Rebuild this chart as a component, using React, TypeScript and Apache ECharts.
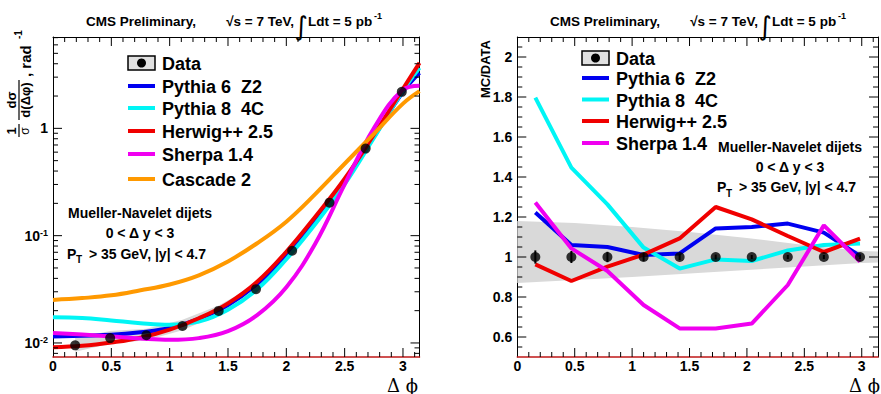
import { useEffect, useRef } from 'react';
import * as echarts from 'echarts';

const PI = Math.PI;
const FONT = '"Liberation Sans", Arial, Helvetica, sans-serif';
const SERIF = '"DejaVu Serif", "Liberation Serif", serif';

// ---------- left panel: 1/sigma dsigma/d(dphi) ----------
const curveX = [0, 0.25, 0.5, 0.75, 1.0, 1.25, 1.5, 1.75, 2.0, 2.25, 2.5, 2.75, 3.0, 3.1416];
const pythia6Curve = [0.0115, 0.0117, 0.0119, 0.0126, 0.0138, 0.0168, 0.0226, 0.0355, 0.0668, 0.143, 0.324, 0.832, 2.19, 3.29];
const pythia8Curve = [0.0174, 0.0171, 0.0162, 0.0153, 0.0148, 0.0158, 0.0204, 0.0316, 0.0603, 0.129, 0.302, 0.813, 2.24, 3.66];
const herwigCurve = [0.0091, 0.0094, 0.0101, 0.0112, 0.0133, 0.017, 0.0234, 0.0372, 0.0708, 0.151, 0.339, 0.871, 2.34, 4.07];
const sherpaCurve = [0.0124, 0.012, 0.0115, 0.011, 0.0107, 0.0111, 0.0129, 0.0182, 0.0331, 0.085, 0.3, 1.0, 2.29, 2.5];
const cascadeCurve = [0.0252, 0.0262, 0.0278, 0.031, 0.0351, 0.0427, 0.0575, 0.085, 0.135, 0.245, 0.468, 0.89, 1.7, 2.22];

const dataX = [0.19, 0.49, 0.8, 1.11, 1.42, 1.74, 2.05, 2.37, 2.68, 2.99];
const dataY = [0.0095, 0.0111, 0.0118, 0.0144, 0.0199, 0.0317, 0.0723, 0.203, 0.648, 2.19];
const dataSysHi = [1.17, 1.165, 1.15, 1.14, 1.12, 1.1, 1.09, 1.07, 1.05, 1.03];
const dataSysLo = [0.87, 0.885, 0.9, 0.91, 0.92, 0.93, 0.94, 0.95, 0.96, 0.97];

// ---------- right panel: MC / DATA ----------
const ratioX = [0.157, 0.471, 0.785, 1.1, 1.414, 1.728, 2.042, 2.356, 2.67, 2.985];
const ratioPythia6 = [1.222, 1.06, 1.05, 1.01, 1.018, 1.143, 1.15, 1.167, 1.122, 1.005];
const ratioPythia8 = [1.797, 1.447, 1.263, 1.047, 0.942, 0.988, 0.98, 1.033, 1.06, 1.068];
const ratioHerwig = [0.963, 0.88, 0.952, 1.012, 1.093, 1.25, 1.188, 1.105, 1.025, 1.092];
const ratioSherpa = [1.272, 1.043, 0.93, 0.76, 0.643, 0.643, 0.667, 0.86, 1.158, 0.977];
const ratioData = [1, 1, 1, 1, 1, 1, 1, 1, 1, 1];
const ratioDataErr = [0.033, 0.03, 0.026, 0.02, 0.015, 0.012, 0.01, 0.01, 0.01, 0.01];
const bandX = [0, 0.5, 1.0, 1.5, 2.0, 2.5, 3.0, 3.1416];
const bandHi = [1.18, 1.17, 1.15, 1.125, 1.095, 1.06, 1.03, 1.027];
const bandLo = [0.87, 0.885, 0.9, 0.918, 0.935, 0.952, 0.97, 0.973];

// ---------- axes ----------
const xTickLabels = ['0', '0.5', '1', '1.5', '2', '2.5', '3'];
const logTickValues = [0.01, 0.1, 1];
const ratioTickLabels = ['0.6', '0.8', '1', '1.2', '1.4', '1.6', '1.8', '2'];
const LOG_MIN = 0.0074, LOG_MAX = 7.1;
const R_MIN = 0.5, R_MAX = 2.1;

const legendNames = ['Pythia 6  Z2', 'Pythia 8  4C', 'Herwig++ 2.5', 'Sherpa 1.4', 'Cascade 2'];
const legendColors = ['#0000f0', '#00f5f5', '#f00000', '#f000f0', '#ff9900'];

const zip = (xs: number[], ys: number[]) => xs.map((x, i) => [x, ys[i]]);

// tick descriptors [value, kind]: 1 x-major, 2 x-minor, 3 y-major, 4 y-minor
function xTicks(): number[][] {
  const out: number[][] = [];
  for (let i = 1; i <= 31; i++) out.push([i / 10, i % 5 === 0 ? 1 : 2]);
  return out;
}
function logTicks(): number[][] {
  const out: number[][] = [];
  for (const dec of [0.001, 0.01, 0.1, 1]) {
    for (let m = 1; m <= 9; m++) {
      const v = m * dec;
      if (v > LOG_MIN && v < LOG_MAX) out.push([v, m === 1 ? 3 : 4]);
    }
  }
  return out;
}
function ratioTicks(): number[][] {
  const out: number[][] = [];
  for (let i = 11; i <= 41; i++) {
    const v = i * 0.05;
    if (v > R_MIN + 0.01 && v < R_MAX - 0.01) out.push([v, i % 4 === 0 ? 3 : 4]);
  }
  return out;
}

const makeTickRender = (yMin: number, yMax: number) => (_p: any, api: any) => {
  const v = api.value(0);
  const k = api.value(1);
  const st = { stroke: '#000', lineWidth: 1 };
  if (k === 1 || k === 2) {
    const len = k === 1 ? 9 : 5;
    const b = api.coord([v, yMin]);
    const t = api.coord([v, yMax]);
    return {
      type: 'group',
      children: [
        { type: 'line', shape: { x1: b[0], y1: b[1], x2: b[0], y2: b[1] - len }, style: st },
        { type: 'line', shape: { x1: t[0], y1: t[1], x2: t[0], y2: t[1] + len }, style: st },
      ],
    };
  }
  const len = k === 3 ? 9 : 5;
  const l = api.coord([0, v]);
  const r = api.coord([PI, v]);
  return {
    type: 'group',
    children: [
      { type: 'line', shape: { x1: l[0], y1: l[1], x2: l[0] + len, y2: l[1] }, style: st },
      { type: 'line', shape: { x1: r[0], y1: r[1], x2: r[0] - len, y2: r[1] }, style: st },
    ],
  };
};

function titleEls(x0: number): any[] {
  const f = 'bold 13.5px ' + FONT;
  return [
    { type: 'text', x: x0, y: 21, style: { text: 'CMS Preliminary,', font: f, fill: '#000', verticalAlign: 'middle' } },
    { type: 'text', x: x0 + 208, y: 21, style: { text: '\u221As = 7 TeV,', font: f, fill: '#000', align: 'right', verticalAlign: 'middle' } },
    { type: 'text', x: x0 + 215, y: 26, style: { text: '\u222B', font: 'normal 26px "DejaVu Sans", sans-serif', fill: '#000', align: 'center', verticalAlign: 'middle' } },
    { type: 'text', x: x0 + 222, y: 21, style: { text: 'Ldt = 5 pb', font: f, fill: '#000', verticalAlign: 'middle' } },
    { type: 'text', x: x0 + 288, y: 16, style: { text: '-1', font: 'bold 9px ' + FONT, fill: '#000', verticalAlign: 'middle' } },
  ];
}

function legendEls(x0: number, ys: number[], n: number): any[] {
  const els: any[] = [
    { type: 'rect', shape: { x: x0, y: ys[0] - 7, width: 27, height: 14 }, style: { fill: '#e0e0e0', stroke: '#000', lineWidth: 1.5 } },
    { type: 'circle', shape: { cx: x0 + 13.5, cy: ys[0], r: 4.5 }, style: { fill: '#000' } },
    { type: 'text', x: x0 + 34, y: ys[0] + 1, style: { text: 'Data', font: 'bold 18px ' + FONT, fill: '#000', verticalAlign: 'middle' } },
  ];
  for (let i = 0; i < n; i++) {
    const y = ys[i + 1];
    els.push({ type: 'line', shape: { x1: x0, y1: y, x2: x0 + 27, y2: y }, style: { stroke: legendColors[i], lineWidth: 4 } });
    els.push({ type: 'text', x: x0 + 34, y: y + 1, style: { text: legendNames[i], font: 'bold 18px ' + FONT, fill: '#000', verticalAlign: 'middle' } });
  }
  return els;
}

function annotEls(cx: number, y0: number, step: number): any[] {
  const f = 'bold 14px ' + FONT;
  return [
    { type: 'text', x: cx, y: y0, style: { text: 'Mueller-Navelet dijets', font: f, fill: '#000', align: 'center', verticalAlign: 'middle' } },
    { type: 'text', x: cx, y: y0 + step, style: { text: '0 < \u0394 y < 3', font: f, fill: '#000', align: 'center', verticalAlign: 'middle' } },
    { type: 'text', x: cx - 73, y: y0 + 2 * step, style: { text: 'P', font: f, fill: '#000', verticalAlign: 'middle' } },
    { type: 'text', x: cx - 64, y: y0 + 2 * step + 6, style: { text: 'T', font: 'bold 10px ' + FONT, fill: '#000', verticalAlign: 'middle' } },
    { type: 'text', x: cx - 55, y: y0 + 2 * step, style: { text: ' > 35 GeV, |y| < 4.7', font: f, fill: '#000', verticalAlign: 'middle' } },
  ];
}

function dphiLabel(xRight: number): any {
  return { type: 'text', x: xRight, y: 385, style: { text: '\u0394 \u03D5', font: 'normal 18px ' + SERIF, fill: '#000', align: 'right', verticalAlign: 'middle' } };
}

const tickFont = { fontFamily: FONT, fontWeight: 'bold' as const, fontSize: 14, color: '#000' };

function xAxes(gridIndex: number): any[] {
  return [
    {
      gridIndex, type: 'value', min: 0, max: PI, interval: 0.5, position: 'bottom',
      axisLine: { show: true, onZero: false, lineStyle: { color: '#c01818', width: 1.5 } },
      axisTick: { show: false }, splitLine: { show: false },
      axisLabel: {
        ...tickFont, margin: 2,
        formatter: (v: number) => {
          const i = Math.round(v * 2);
          return Math.abs(v * 2 - i) < 1e-6 && i < xTickLabels.length ? xTickLabels[i] : '';
        },
      },
    },
    {
      gridIndex, type: 'value', min: 0, max: PI, interval: 0.5, position: 'top',
      axisLine: { show: true, onZero: false, lineStyle: { color: '#000', width: 1 } },
      axisTick: { show: false }, splitLine: { show: false }, axisLabel: { show: false },
    },
  ];
}

function buildOption(): any {
  const lineSeries = (name: string, xs: number[], ys: number[], color: string, xi: number, yi: number, smooth: boolean) => ({
    name, type: 'line', xAxisIndex: xi, yAxisIndex: yi, data: zip(xs, ys), smooth: smooth ? 0.4 : false,
    showSymbol: false, symbol: 'none', lineStyle: { color, width: 4 }, itemStyle: { color }, z: 3,
  });

  const leftBand = {
    type: 'custom', name: 'sys-left', xAxisIndex: 0, yAxisIndex: 0, data: [[dataX[0], dataY[0]]], z: 2,
    renderItem: (_p: any, api: any) => {
      const pts: number[][] = [];
      for (let i = 0; i < dataX.length; i++) pts.push(api.coord([dataX[i], dataY[i] * dataSysHi[i]]));
      for (let i = dataX.length - 1; i >= 0; i--) pts.push(api.coord([dataX[i], dataY[i] * dataSysLo[i]]));
      return { type: 'polygon', shape: { points: pts }, style: { fill: '#d9d9d9' } };
    },
  };
  const rightBand = {
    type: 'custom', name: 'sys-right', xAxisIndex: 2, yAxisIndex: 2, data: [[bandX[0], bandHi[0]]], z: 2,
    renderItem: (_p: any, api: any) => {
      const pts: number[][] = [];
      for (let i = 0; i < bandX.length; i++) pts.push(api.coord([bandX[i], bandHi[i]]));
      for (let i = bandX.length - 1; i >= 0; i--) pts.push(api.coord([bandX[i], bandLo[i]]));
      return { type: 'polygon', shape: { points: pts }, style: { fill: '#d9d9d9' } };
    },
  };
  const rightErr = {
    type: 'custom', name: 'err', xAxisIndex: 2, yAxisIndex: 2, z: 4,
    data: ratioX.map((x, i) => [x, ratioData[i], ratioDataErr[i]]),
    renderItem: (_p: any, api: any) => {
      const x = api.value(0), y = api.value(1), e = api.value(2);
      const a = api.coord([x, y + e]);
      const b = api.coord([x, y - e]);
      return { type: 'line', shape: { x1: a[0], y1: a[1], x2: b[0], y2: b[1] }, style: { stroke: '#000', lineWidth: 2 } };
    },
  };

  return {
    animation: false,
    backgroundColor: '#fff',
    grid: [
      { left: 53, top: 37, width: 366.5, height: 320 },
      { left: 517.3, top: 37, width: 364.4, height: 320 },
    ],
    xAxis: [...xAxes(0), ...xAxes(1)],
    yAxis: [
      {
        gridIndex: 0, type: 'log', logBase: 10, min: LOG_MIN, max: LOG_MAX, position: 'left',
        axisLine: { show: true, onZero: false, lineStyle: { color: '#000', width: 1 } },
        axisTick: { show: false }, splitLine: { show: false }, minorTick: { show: false },
        axisLabel: {
          ...tickFont, margin: 5,
          formatter: (v: number) => {
            const e = Math.log10(v);
            const r = Math.round(e);
            if (Math.abs(e - r) > 1e-6 || logTickValues.indexOf(Math.pow(10, r)) < 0) return '';
            return r === 0 ? '1' : `{b|10}{s|${r}}`;
          },
          rich: {
            b: { ...tickFont, verticalAlign: 'bottom' },
            s: { fontFamily: FONT, fontWeight: 'bold', fontSize: 9, color: '#000', verticalAlign: 'top' },
          },
        },
      },
      {
        gridIndex: 0, type: 'log', logBase: 10, min: LOG_MIN, max: LOG_MAX, position: 'right',
        axisLine: { show: true, onZero: false, lineStyle: { color: '#000', width: 1 } },
        axisTick: { show: false }, splitLine: { show: false }, axisLabel: { show: false },
      },
      {
        gridIndex: 1, type: 'value', min: R_MIN, max: R_MAX, interval: 0.1, position: 'left',
        axisLine: { show: true, onZero: false, lineStyle: { color: '#000', width: 1 } },
        axisTick: { show: false }, splitLine: { show: false },
        axisLabel: {
          ...tickFont, margin: 5,
          formatter: (v: number) => {
            const r = Math.round(v * 10);
            if (r % 2 !== 0) return '';
            const idx = (r - 6) / 2;
            return idx >= 0 && idx < ratioTickLabels.length ? ratioTickLabels[idx] : '';
          },
        },
      },
      {
        gridIndex: 1, type: 'value', min: R_MIN, max: R_MAX, interval: 0.1, position: 'right',
        axisLine: { show: true, onZero: false, lineStyle: { color: '#000', width: 1 } },
        axisTick: { show: false }, splitLine: { show: false }, axisLabel: { show: false },
      },
    ],
    series: [
      leftBand,
      lineSeries('Pythia 6  Z2', curveX, pythia6Curve, legendColors[0], 0, 0, true),
      lineSeries('Pythia 8  4C', curveX, pythia8Curve, legendColors[1], 0, 0, true),
      lineSeries('Herwig++ 2.5', curveX, herwigCurve, legendColors[2], 0, 0, true),
      lineSeries('Sherpa 1.4', curveX, sherpaCurve, legendColors[3], 0, 0, true),
      lineSeries('Cascade 2', curveX, cascadeCurve, legendColors[4], 0, 0, true),
      {
        name: 'Data', type: 'scatter', xAxisIndex: 0, yAxisIndex: 0, data: zip(dataX, dataY),
        symbol: 'circle', symbolSize: 10, itemStyle: { color: '#000' }, z: 5,
      },
      { type: 'custom', name: 'ticks-left', xAxisIndex: 0, yAxisIndex: 0, data: [...xTicks(), ...logTicks()], renderItem: makeTickRender(LOG_MIN, LOG_MAX), z: 6 },

      rightBand,
      lineSeries('Pythia 6  Z2 ratio', ratioX, ratioPythia6, legendColors[0], 2, 2, false),
      lineSeries('Pythia 8  4C ratio', ratioX, ratioPythia8, legendColors[1], 2, 2, false),
      lineSeries('Herwig++ 2.5 ratio', ratioX, ratioHerwig, legendColors[2], 2, 2, false),
      lineSeries('Sherpa 1.4 ratio', ratioX, ratioSherpa, legendColors[3], 2, 2, false),
      rightErr,
      {
        name: 'Data ratio', type: 'scatter', xAxisIndex: 2, yAxisIndex: 2, data: zip(ratioX, ratioData),
        symbol: 'circle', symbolSize: 10, itemStyle: { color: '#000' }, z: 5,
      },
      { type: 'custom', name: 'ticks-right', xAxisIndex: 2, yAxisIndex: 2, data: [...xTicks(), ...ratioTicks()], renderItem: makeTickRender(R_MIN, R_MAX), z: 6 },
    ],
    graphic: [
      ...titleEls(86),
      ...titleEls(550),
      ...legendEls(128, [63, 86, 108, 131, 154, 179], 5),
      ...legendEls(582, [58, 78, 99.5, 121, 143], 4),
      ...annotEls(140, 213, 20.3),
      ...annotEls(790, 147, 20),
      dphiLabel(418),
      dphiLabel(880),
      {
        type: 'text', x: 485, y: 40, rotation: PI / 2,
        style: { text: 'MC/DATA', font: 'bold 13px ' + FONT, fill: '#000', align: 'right', verticalAlign: 'middle' },
      },
      {
        type: 'group', x: 19, y: 141, rotation: PI / 2,
        children: [
          { type: 'text', x: 10, y: -1, style: { text: '1', font: 'bold 13px ' + FONT, fill: '#000', align: 'center', verticalAlign: 'bottom' } },
          { type: 'line', shape: { x1: 4, y1: 0, x2: 17, y2: 0 }, style: { stroke: '#000', lineWidth: 1.2 } },
          { type: 'text', x: 10, y: 0, style: { text: '\u03C3', font: 'normal 12px ' + FONT, fill: '#000', align: 'center', verticalAlign: 'top' } },
          { type: 'text', x: 41, y: -1, style: { text: 'd\u03C3', font: 'bold 13px ' + FONT, fill: '#000', align: 'center', verticalAlign: 'bottom' } },
          { type: 'line', shape: { x1: 21, y1: 0, x2: 61, y2: 0 }, style: { stroke: '#000', lineWidth: 1.2 } },
          { type: 'text', x: 41, y: 0, style: { text: 'd(\u0394\u03C6)', font: 'bold 13px ' + FONT, fill: '#000', align: 'center', verticalAlign: 'top' } },
          { type: 'text', x: 64, y: 6, style: { text: ', rad', font: 'bold 15px ' + FONT, fill: '#000', verticalAlign: 'middle' } },
          { type: 'text', x: 102, y: -1, style: { text: '-1', font: 'bold 10px ' + FONT, fill: '#000', verticalAlign: 'middle' } },
        ],
      },
    ],
  };
}

export default function App() {
  const ref = useRef<HTMLDivElement>(null);
  useEffect(() => {
    if (!ref.current) return;
    const chart = echarts.init(ref.current, null, { renderer: 'svg' });
    chart.setOption(buildOption());
    return () => chart.dispose();
  }, []);
  return <div ref={ref} style={{ position: 'fixed', left: 0, top: 0, width: 881, height: 394, background: '#fff' }} />;
}
